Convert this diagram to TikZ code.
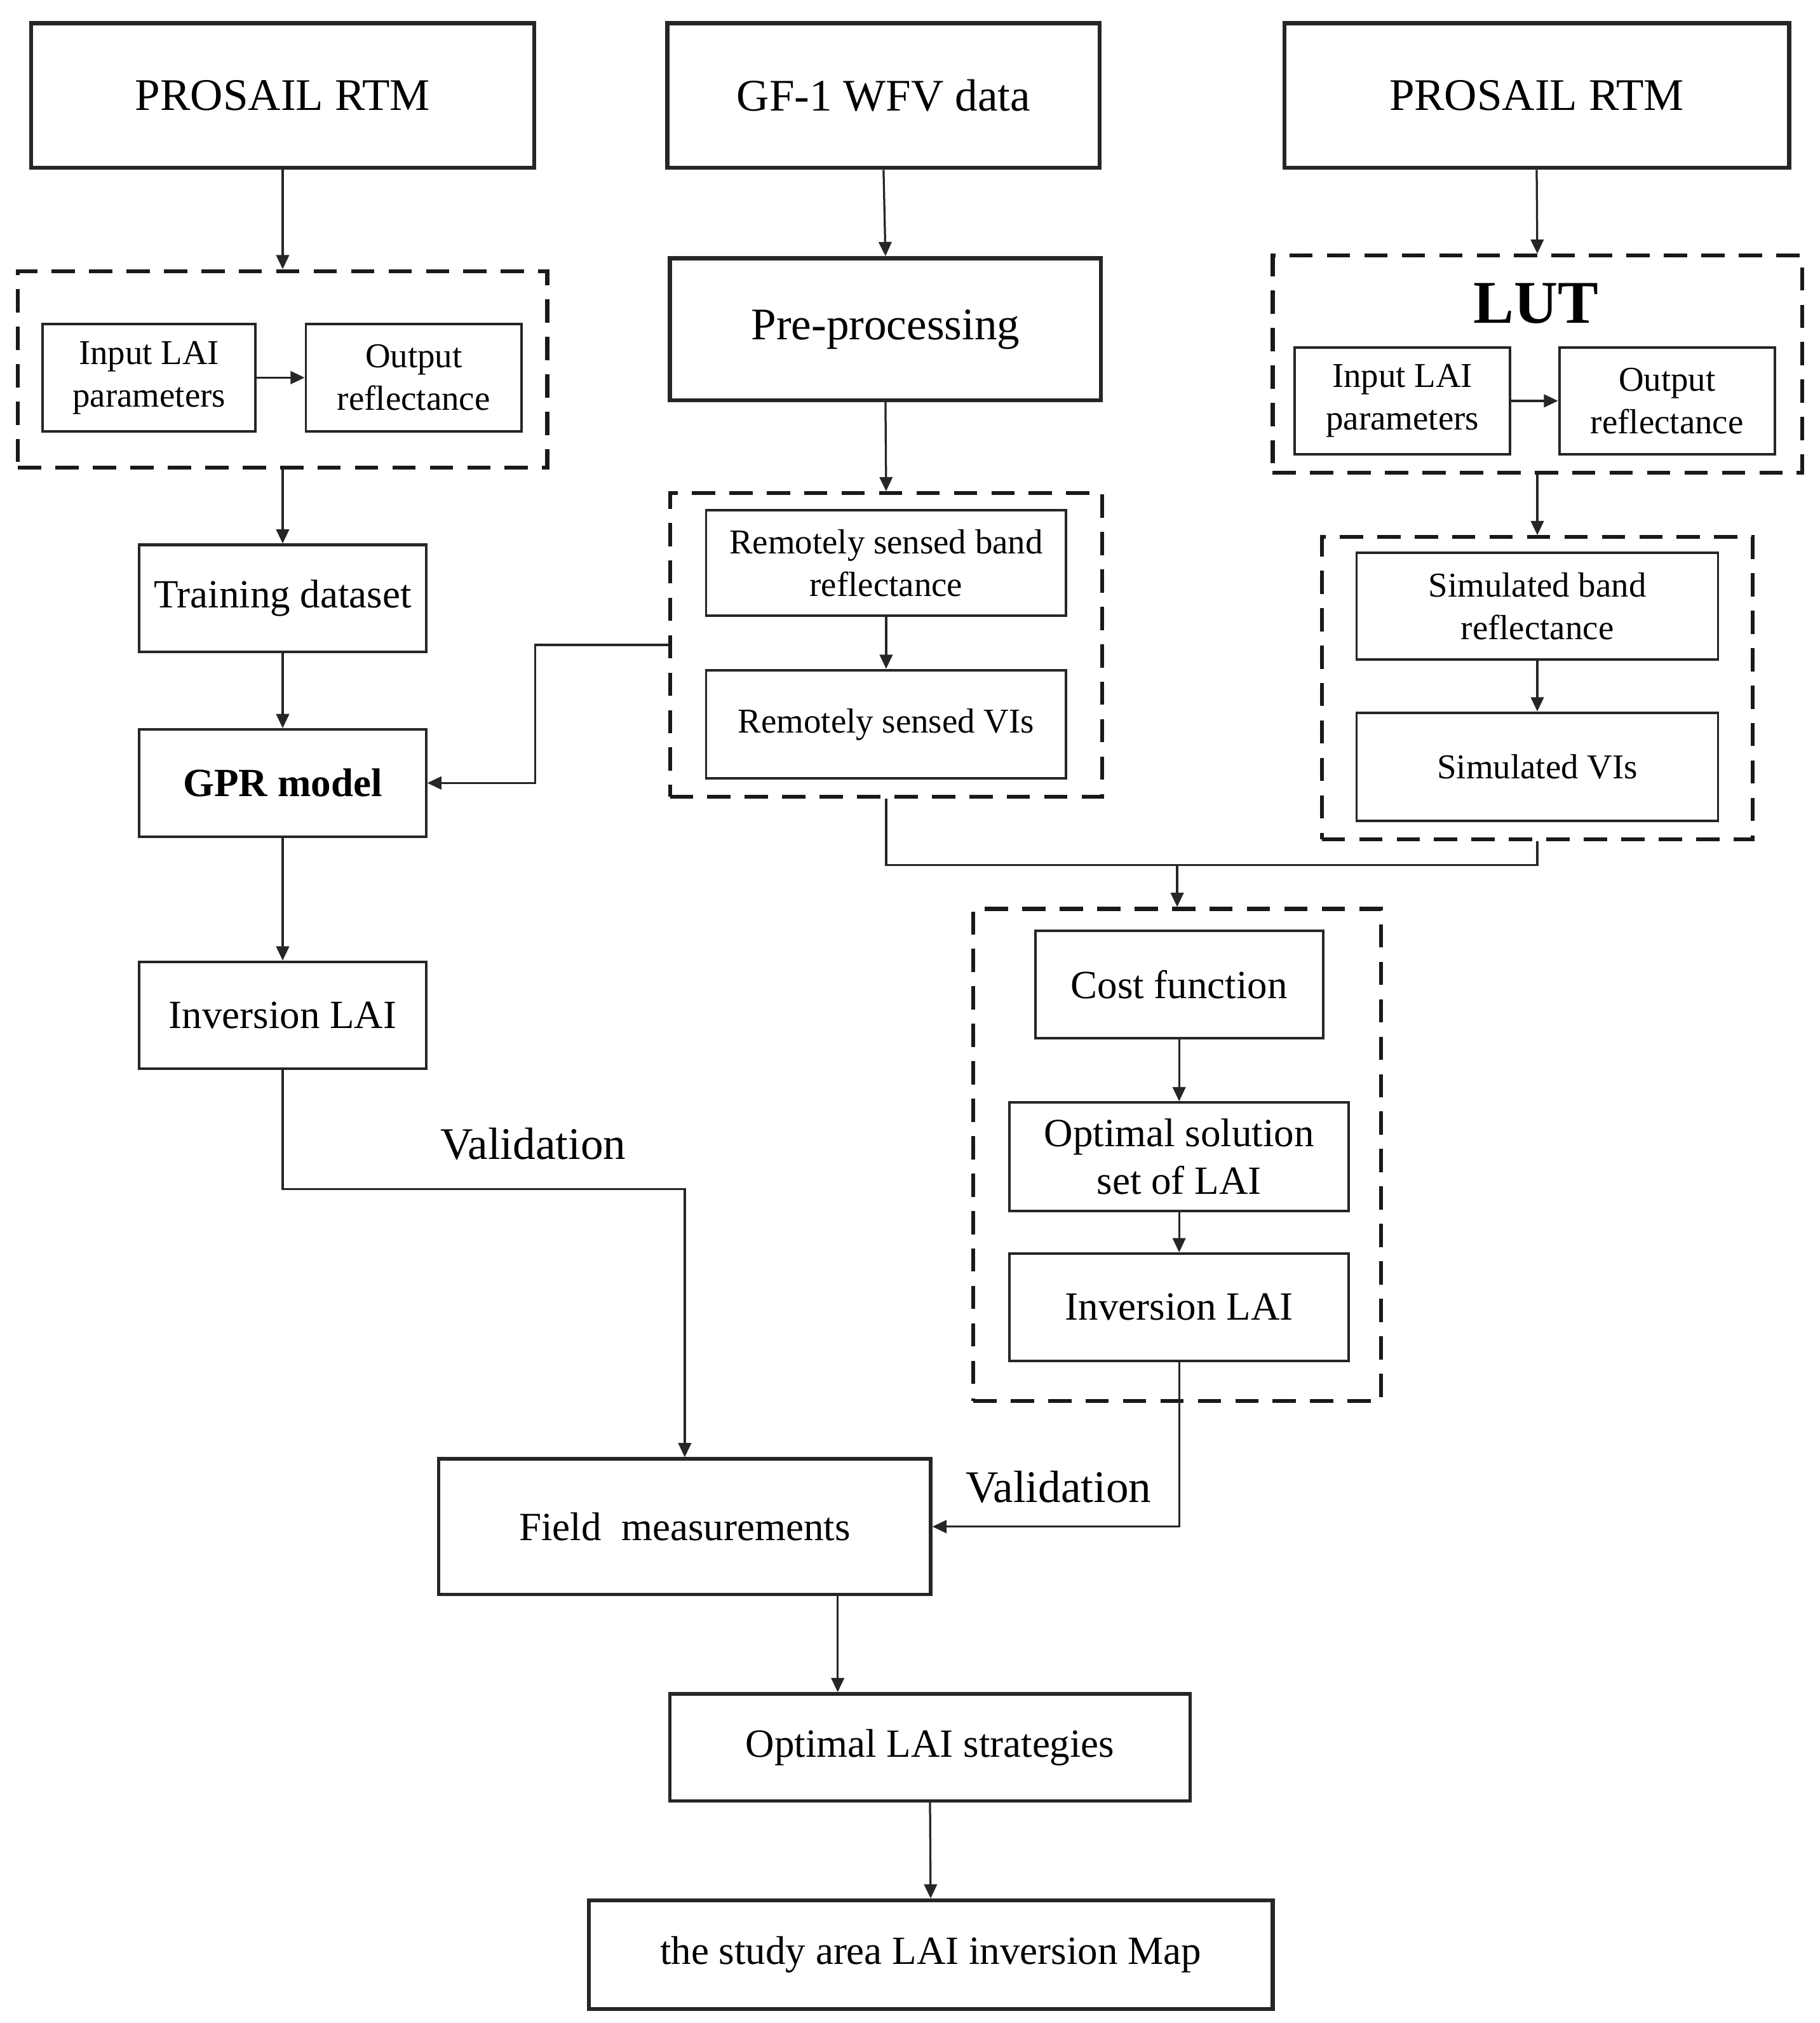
\documentclass[tikz,border=0pt]{standalone}
\usepackage{fontspec}
\setmainfont{Liberation Serif}
\usetikzlibrary{arrows.meta,calc}
\tikzset{
  base/.style={rectangle, inner sep=0pt, align=center, draw=black!85},
  thickbox/.style={base, line width=3.2pt, font=\fontsize{35}{40}\selectfont},
  midbox/.style={base, line width=2.6pt, font=\fontsize{31}{37}\selectfont},
  box/.style={base, line width=2pt, font=\fontsize{31}{37}\selectfont},
  smallbox/.style={base, line width=1.9pt, font=\fontsize{27}{33}\selectfont},
  dbox/.style={rectangle, inner sep=0pt, draw=black!90, line width=3pt, dash pattern=on 18pt off 11pt},
  arr/.style={draw=black!85, line width=1.6pt, -{Triangle[length=11pt,width=10pt]}},
  ln/.style={draw=black!85, line width=1.6pt},
  lbl/.style={inner sep=0pt, font=\fontsize{35}{40}\selectfont},
}
\begin{document}
\begin{tikzpicture}[x=1pt,y=-1pt]
\useasboundingbox (0,0) rectangle (1410,1567);
% top row
\node[thickbox, minimum width=390pt, minimum height=112pt] (prosailL) at (219,74) {PROSAIL RTM};
\node[thickbox, minimum width=335pt, minimum height=112pt] (gf1) at (684.5,74) {GF-1 WFV data};
\node[thickbox, minimum width=391pt, minimum height=112pt] (prosailR) at (1190.5,74) {PROSAIL RTM};
% left column
\node[dbox, minimum width=410pt, minimum height=152pt] (dashL) at (219,286) {};
\node[smallbox, minimum width=165pt, minimum height=83pt] (inL) at (115.5,292.5) {Input LAI\\parameters};
\node[smallbox, minimum width=167pt, minimum height=83pt] (outL) at (320.5,292.5) {Output\\reflectance};
\node[box, minimum width=222pt, minimum height=83pt] (train) at (219,463.5) {Training dataset};
\node[box, minimum width=222pt, minimum height=83pt] (gpr) at (219,606.5) {\bfseries GPR model};
\node[box, minimum width=222pt, minimum height=83pt] (invL) at (219,786.5) {Inversion LAI};
% middle column
\node[thickbox, minimum width=334pt, minimum height=110pt] (pre) at (686,255) {Pre-processing};
\node[dbox, minimum width=335pt, minimum height=235pt] (dashM) at (686.5,499.5) {};
\node[smallbox, minimum width=279pt, minimum height=82pt] (rsb) at (686.5,436) {Remotely sensed band\\reflectance};
\node[smallbox, minimum width=279pt, minimum height=84pt] (rsv) at (686.5,561) {Remotely sensed VIs};
% right column
\node[dbox, minimum width=410pt, minimum height=168pt] (dashLUT) at (1191,282) {};
\node[inner sep=0pt, font=\fontsize{47}{50}\selectfont\bfseries] (lut) at (1190,235) {LUT};
\node[smallbox, minimum width=167pt, minimum height=83pt] (inR) at (1086.5,310.5) {Input LAI\\parameters};
\node[smallbox, minimum width=167pt, minimum height=83pt] (outR) at (1291.5,310.5) {Output\\reflectance};
\node[dbox, minimum width=334pt, minimum height=234pt] (dashS) at (1191,533) {};
\node[smallbox, minimum width=280pt, minimum height=83pt] (sb) at (1191,469.5) {Simulated band\\reflectance};
\node[smallbox, minimum width=280pt, minimum height=84pt] (sv) at (1191,594) {Simulated VIs};
% cost block
\node[dbox, minimum width=316pt, minimum height=381pt] (dashC) at (912,894.5) {};
\node[box, minimum width=223pt, minimum height=83pt] (cost) at (913.5,762.5) {Cost function};
\node[box, minimum width=263pt, minimum height=84pt] (opt) at (913.5,896) {Optimal solution\\set of LAI};
\node[box, minimum width=263pt, minimum height=83pt] (invC) at (913.5,1012.5) {Inversion LAI};
% bottom
\node[midbox, minimum width=381pt, minimum height=105pt] (field) at (530.5,1182.5) {Field\ \ measurements};
\node[midbox, minimum width=403pt, minimum height=83pt] (strat) at (720.5,1353.5) {Optimal LAI strategies};
\node[midbox, line width=3pt, minimum width=530pt, minimum height=84pt] (map) at (721,1514) {the study area LAI inversion Map};
% labels
\node[lbl] (val1) at (413,886) {Validation};
\node[lbl] (val2) at (820,1152) {Validation};
% connectors
\draw[arr] (prosailL.south) -- (dashL.north);
\draw[arr] (gf1.south) -- (pre.north);
\draw[arr] (prosailR.south) -- (dashLUT.north);
\draw[arr] (pre.south) -- (dashM.north);
\draw[arr] (inL.east) -- (outL.west);
\draw[arr] (inR.east) -- (outR.west);
\draw[arr] (dashL.south) -- (train.north);
\draw[arr] (train.south) -- (gpr.north);
\draw[arr] (gpr.south) -- (invL.north);
\draw[arr] (rsb.south) -- (rsv.north);
\draw[arr] (dashLUT.south) -- (dashS.north);
\draw[arr] (sb.south) -- (sv.north);
\draw[arr] (dashM.west) -- ++(-103,0) |- (gpr.east);
\coordinate (jn) at (912,670);
\draw[ln] (dashM.south) |- (jn) -| (dashS.south);
\draw[arr] (jn) -- (dashC.north);
\draw[arr] (cost.south) -- (opt.north);
\draw[arr] (opt.south) -- (invC.north);
\draw[arr] (invL.south) -- ++(0,92) -| (field.north);
\draw[arr] (invC.south) |- (field.east);
\draw[arr] ([xshift=118.5pt]field.south) -- ([xshift=-71.5pt]strat.north);
\draw[arr] (strat.south) -- (map.north);
\end{tikzpicture}
\end{document}
